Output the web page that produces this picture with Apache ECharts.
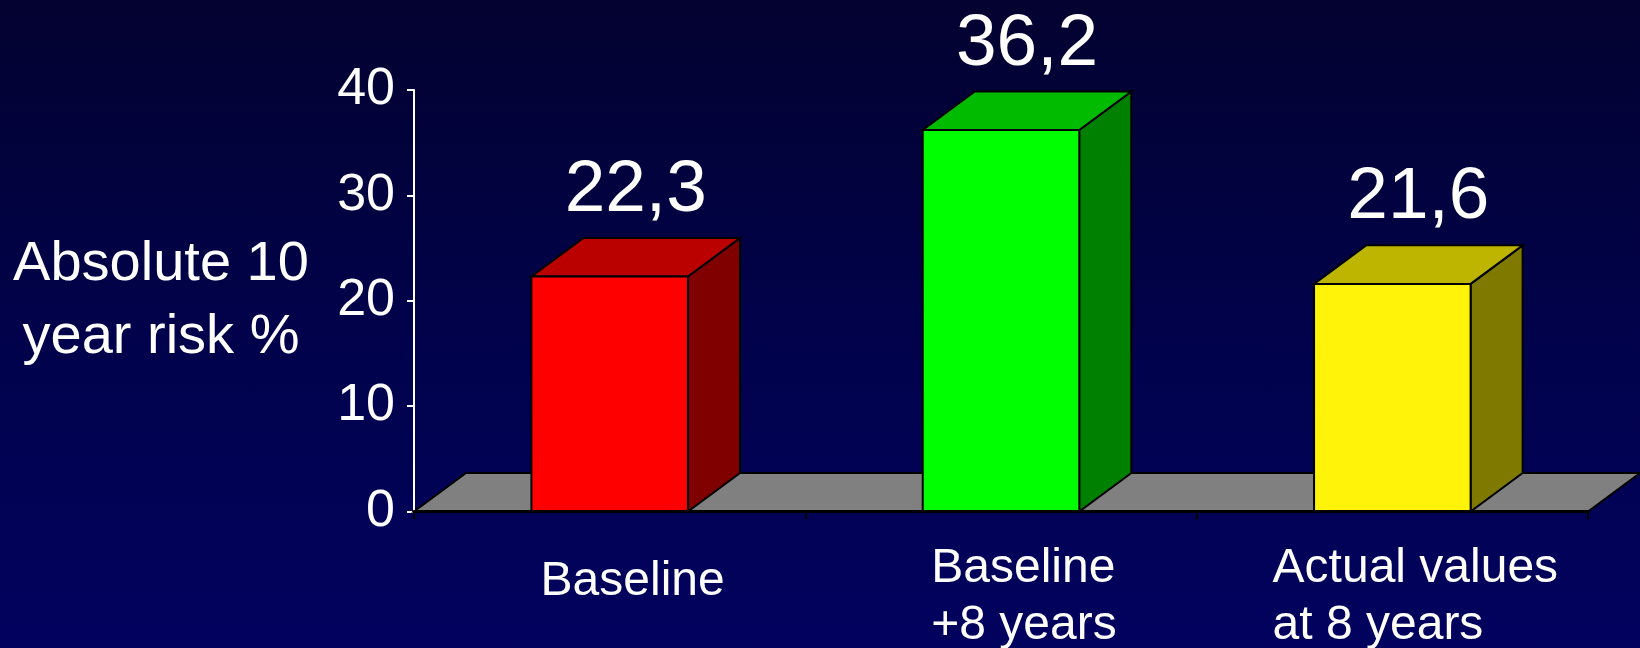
<!DOCTYPE html>
<html>
<head>
<meta charset="utf-8">
<script src="https://cdn.jsdelivr.net/npm/echarts@6/dist/echarts.min.js"></script>
<style>
  html, body { margin: 0; padding: 0; }
  #chart {
    width: 1640px;
    height: 648px;
    background: linear-gradient(to bottom, #030230 0%, #01024a 50%, #02025f 100%);
  }
</style>
</head>
<body>
<div id="chart"></div>
<script>
// Chart data
const categories = ['Baseline', 'Baseline\n+8 years', 'Actual values\nat 8 years'];
const riskValues = [22.3, 36.2, 21.6];
const yMin = 0;
const yMax = 40;
const yStep = 10;

// Face colours of each block: front, top, side
const faceColors = [
  { front: '#ff0000', top: '#bb0000', side: '#800000' },
  { front: '#00ff00', top: '#00bb00', side: '#008000' },
  { front: '#fff30a', top: '#bdb500', side: '#7f7900' }
];

const FONT = '"Liberation Sans", Arial, Helvetica, sans-serif';
// Depth of the pseudo-3D extrusion, as a fraction of the category band width
const DEPTH_X = 0.133;
const DEPTH_Y = 0.0985;

function fmtValue(v) {
  return v.toFixed(1).replace('.', ',');
}

function renderFloor(params, api) {
  const cs = params.coordSys;
  const y0 = api.coord([0, 0])[1];
  const band = api.size([1, 0])[0];
  const dx = band * DEPTH_X;
  const dy = -band * DEPTH_Y;
  return {
    type: 'polygon',
    shape: {
      points: [
        [cs.x, y0],
        [cs.x + dx, y0 + dy],
        [cs.x + cs.width + dx, y0 + dy],
        [cs.x + cs.width, y0]
      ]
    },
    style: { fill: '#808080', stroke: '#000000', lineWidth: 2 }
  };
}

function renderBlock(params, api) {
  const idx = api.value(0);
  const val = api.value(1);
  const base = api.coord([idx, 0]);
  const top = api.coord([idx, val]);
  const band = api.size([1, 0])[0];
  const w = band * 0.4;
  const dx = band * DEPTH_X;
  const dy = -band * DEPTH_Y;
  const x0 = base[0] - w / 2;
  const x1 = base[0] + w / 2;
  const yB = base[1];
  const yT = top[1];
  const c = faceColors[params.dataIndex % faceColors.length];
  const edge = { stroke: '#000000', lineWidth: 2, lineJoin: 'miter' };
  return {
    type: 'group',
    children: [
      {
        type: 'polygon',
        shape: { points: [[x1, yT], [x1 + dx, yT + dy], [x1 + dx, yB + dy], [x1, yB]] },
        style: Object.assign({ fill: c.side }, edge)
      },
      {
        type: 'polygon',
        shape: { points: [[x0, yT], [x0 + dx, yT + dy], [x1 + dx, yT + dy], [x1, yT]] },
        style: Object.assign({ fill: c.top }, edge)
      },
      {
        type: 'rect',
        shape: { x: x0, y: yT, width: w, height: yB - yT },
        style: Object.assign({ fill: c.front }, edge)
      },
      {
        type: 'text',
        x: base[0] + dx / 2,
        y: yT + dy - 47,
        style: {
          text: fmtValue(val),
          fill: '#ffffff',
          fontSize: 73,
          fontFamily: FONT,
          align: 'center',
          verticalAlign: 'middle'
        }
      }
    ]
  };
}

const chart = echarts.init(document.getElementById('chart'), null, { renderer: 'canvas' });

chart.setOption({
  backgroundColor: 'transparent',
  animation: false,
  grid: {
    left: 414, right: 52, top: 90, bottom: 136.5,
    containLabel: false,
    outerBoundsMode: 'none'
  },
  xAxis: {
    type: 'category',
    data: categories,
    boundaryGap: true,
    z: 3,
    axisLine: { show: true, lineStyle: { color: '#000000', width: 3 } },
    axisTick: { show: true, length: 8, lineStyle: { color: '#000000', width: 2 } },
    splitLine: { show: false },
    axisLabel: {
      interval: 0,
      margin: 29,
      verticalAlign: 'top',
      align: 'center',
      padding: [0, 0, 0, 46],
      color: '#ffffff',
      fontSize: 48,
      fontFamily: FONT,
      lineHeight: 57,
      formatter: function (value) {
        const lines = value.split('\n');
        if (lines.length === 1) {
          return '{s|' + value + '}';
        }
        return lines.map(function (l) { return '{l|' + l + '}'; }).join('\n');
      },
      rich: {
        s: { color: '#ffffff', fontSize: 48, fontFamily: FONT, lineHeight: 82 },
        l: { color: '#ffffff', fontSize: 48, fontFamily: FONT, lineHeight: 57, align: 'left' }
      }
    }
  },
  yAxis: {
    type: 'value',
    min: yMin,
    max: yMax,
    interval: yStep,
    name: 'Absolute 10\nyear risk %',
    nameLocation: 'middle',
    nameRotate: 0,
    nameGap: 253,
    nameTextStyle: {
      color: '#ffffff',
      fontSize: 56,
      fontFamily: FONT,
      lineHeight: 73,
      align: 'center',
      verticalAlign: 'middle',
      padding: [4, 0, 0, 0]
    },
    axisLine: { show: true, lineStyle: { color: '#ffffff', width: 2 } },
    axisTick: { show: true, length: 7, lineStyle: { color: '#ffffff', width: 2 } },
    splitLine: { show: false },
    axisLabel: {
      margin: 19,
      color: '#ffffff',
      fontSize: 52,
      fontFamily: FONT
    }
  },
  series: [
    {
      type: 'custom',
      name: 'floor',
      z: 1,
      clip: false,
      renderItem: renderFloor,
      encode: { x: 0, y: 1 },
      data: [[0, 0]],
      silent: true
    },
    {
      type: 'custom',
      name: 'risk',
      z: 2,
      clip: false,
      renderItem: renderBlock,
      encode: { x: 0, y: 1 },
      data: riskValues.map(function (v, i) { return [i, v]; })
    }
  ]
});
</script>
</body>
</html>
